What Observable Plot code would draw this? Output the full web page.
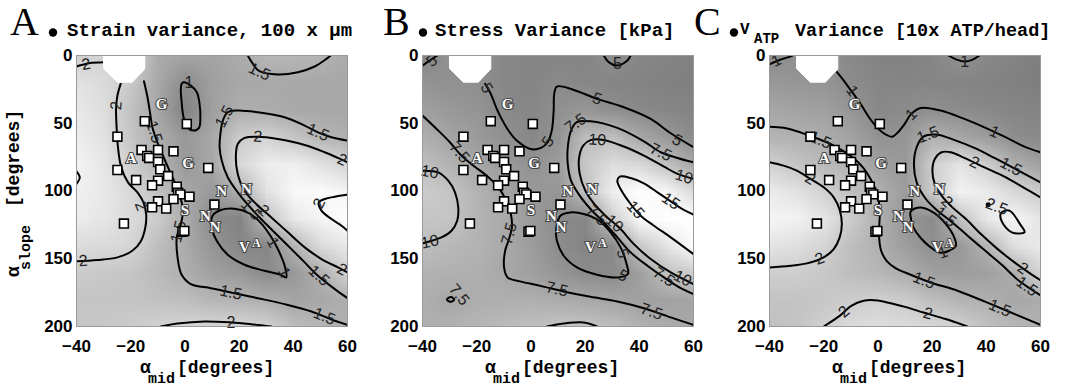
<!DOCTYPE html>
<html>
<head>
<meta charset="utf-8">
<script src="https://cdn.jsdelivr.net/npm/d3@7"></script>
<script src="https://cdn.jsdelivr.net/npm/@observablehq/plot@0.6"></script>
<style>
  body { margin: 0; background: #fff; }
  #wrap { position: relative; width: 1069px; height: 391px; overflow: hidden; background: #fff; }
  #wrap > svg { position: absolute; top: 0; }
</style>
</head>
<body>
<div id="wrap"></div>
<script>
// ---------------- shared axes / markers ----------------
const xTicks = [-40, -20, 0, 20, 40, 60];
const yTicks = [0, 50, 100, 150, 200];
const panelLetters = ["A", "B", "C"];
const panelTitles = ["Strain variance, 100 x µm", "Stress Variance [kPa]", "Variance [10x ATP/head]"];

// squares (same in all panels): [alpha_mid, alpha_slope]
const squares = [
  [-14.8,48.5],[0.7,50.5],[-24.9,59.9],[-16.0,69.7],[-13.9,74.1],[-13.2,75.6],[-9.9,69.7],[-4.2,70.7],
  [-9.9,78.6],[-24.9,84.5],[-9.1,84.0],[8.6,83.0],[-6.2,89.0],[-18.0,91.9],[-9.9,92.4],[-12.1,95.8],
  [-3.0,96.8],[-2.5,101.2],[-1.7,102.5],[1.7,104.2],[-4.2,106.0],[-9.9,107.6],[-12.1,112.0],[-6.9,113.0],
  [10.9,110.0],[-22.5,124.0],[-0.9,130.0],[-0.2,129.5]
];
// species letters
const letters = [["G",-8.6,35.7],["A",-19.8,75.6],["G",1.2,79.6],["N",13.6,99.8],["N",22.7,98.3],
  ["S",0,114.5],["N",7.6,118.8],["N",11.2,126.6],["V",22.0,141.6]];
const superLetters = [["A",26.4,138.2]];
// undefined (white) region
const maskOctagon = [[-29.9,0],[-14.8,0],[-14.8,9.9],[-19.4,19.7],[-24.9,19.7],[-29.9,9.9]];

// grid for background (x = -40..60 step 10, y = 0..200 step 20)
const gridX = [-40,-30,-20,-10,0,10,20,30,40,50,60];
const gridY = [0,20,40,60,80,100,120,140,160,180,200];

// ---------------- Panel A: strain variance ----------------
const strainGrid = [
  [1.95,2.0,2.0,1.45,1.35,1.35,1.45,1.6,1.6,1.55,1.45],
  [2.2,2.1,1.85,1.4,1.0,1.3,1.4,1.42,1.42,1.4,1.4],
  [2.3,2.15,1.75,1.35,0.9,1.3,1.5,1.47,1.42,1.4,1.4],
  [2.35,2.2,1.8,1.48,1.2,1.4,1.9,2.0,1.8,1.6,1.5],
  [2.45,2.25,1.95,1.6,1.2,1.4,2.05,2.35,2.4,2.2,2.02],
  [2.4,2.3,2.05,1.75,1.4,1.2,1.52,2.2,2.5,2.55,2.45],
  [2.35,2.25,2.1,1.9,1.45,1.0,0.9,1.75,2.3,2.45,2.6],
  [2.1,2.1,2.02,1.7,1.45,1.15,0.95,0.95,1.55,2.1,2.3],
  [1.9,1.85,1.8,1.65,1.5,1.3,1.2,1.0,1.2,1.5,2.0],
  [1.8,1.8,1.8,1.75,1.7,1.6,1.55,1.5,1.35,1.4,1.5],
  [1.85,1.85,1.9,1.98,2.05,2.05,2.05,2.0,1.7,1.6,1.5]
];
const strainTopLeft2 = [[-40,8.1],[-35.4,5.7],[-29.9,5.0]];
const strainWest2 = [[-23.7,20.9],[-24.9,29.6],[-25.4,39.4],[-25.2,53.0],[-24.7,67.7],[-23.5,82.5],[-21.0,93.6],[-17.5,101.0],[-15.3,108.4],[-14.3,117.0],[-14.6,126.8],[-16.3,137.2],[-19.4,144.1],[-24.9,149.0],[-32.3,151.0],[-40,151.9]];
const strainCenter15 = [[-15.1,19.0],[-13.8,30.8],[-12.8,43.1],[-12.0,53.0],[-10.4,62.8],[-8.1,73.9],[-5.7,85.0],[-3.5,94.8],[-1.7,104.7],[-0.7,114.5],[-1.5,124.4],[-3.0,134.2],[-2.7,149.0],[-1.2,161.8],[2.2,168.7],[9.6,171.7],[17.0,174.9],[26.9,179.1],[36.8,183.5],[46.7,188.9],[55.3,195.8],[60,198.8]];
const strainEast15 = [[60,62.8],[54.1,60.3],[49.1,56.7],[44.2,51.7],[36.8,45.6],[26.9,41.9],[19.5,40.6],[15.8,41.9],[14.0,48.0],[13.1,57.9],[12.8,67.7],[13.6,77.6],[15.8,89.9],[19.5,101.0],[23.2,110.1],[28.1,120.7],[34.3,133.0],[39.3,142.9],[44.2,152.7],[49.1,162.6],[55.3,172.4],[60,179.1]];
const strainEast2 = [[60,78.8],[56.5,75.6],[51.6,71.4],[44.2,66.0],[34.3,61.6],[26.9,59.9],[22.0,60.8],[19.5,65.3],[18.8,75.1],[19.5,87.4],[22.0,99.8],[26.3,109.6],[31.9,119.5],[38.0,130.5],[44.2,141.6],[50.4,150.2],[56.5,156.4],[60,160.1]];
const strainInner = [[60,102.7],[55.3,104.2],[51.6,105.9],[49.4,108.4],[50.4,114.5],[54.1,120.7],[57.8,125.6],[60,129.3]];
const strainTop15 = [[23.2,0],[25.1,6.2],[27.5,11.6],[34.3,14.0],[41.7,12.3],[47.9,8.1],[52.2,2.5],[53.8,0]];
const strainBottom2 = [[-8.9,200],[-2.7,197.8],[7.2,196.3],[17.0,197.0],[24.4,198.3],[31.9,200]];
const strainEdge = [[-40,85.5],[-38.8,89.9],[-40,94.8]];
const strainTopLoop1 = [[-0.5,19.7],[2.2,22.2],[4.4,27.1],[5.4,35.7],[5.7,45.6],[5.2,53.4],[3.2,55.4],[1.0,53.4],[-0.5,45.6],[-1.2,34.5],[-1.5,25.9],[-1.2,20.9]];
const strainValleyLoop1 = [[10.2,118.2],[13.3,114.0],[18.3,113.1],[23.8,116.5],[28.4,124.4],[31.9,134.2],[34.6,144.1],[36.8,155.2],[37.4,163.8],[35.3,161.8],[29.4,158.9],[22.0,154.4],[15.8,147.0],[11.9,137.2],[9.9,127.3]];
const strainLabels = [
  ["2",-36.5,6.5,-9],["2",-25.3,37,-85],["2",-37.5,151.5,-3],["2",-16.2,111,68],
  ["1.5",-11.3,56.5,72],["1.5",-2.4,130,-75],["1.5",17,175,12],["1.5",51.5,192.5,22],
  ["1.5",14.6,45,-62],["1.5",49.1,56.7,24],["1.5",24.5,114,47],["1.5",49.5,162.5,42],["1.5",27.5,12,25],
  ["2",26.9,60,4],["2",58,77,24],["2",29,114.5,41],["2",58,158,28],["2",49.6,109,-65],["2",17,197,0],
  ["1",1.5,20.5,0],["1",36.6,160,62],["1",32.5,138,61]
];

// ---------------- Panel B: stress variance ----------------
const stressGrid = [
  [4.5,5.5,5.5,4.6,4.3,4.2,4.3,5.2,4.5,4.2,4.0],
  [5.6,5.4,5.2,4.6,4.3,4.9,4.6,4.3,4.2,4.0,3.9],
  [6.8,6.2,5.8,4.8,4.5,5.4,6.0,5.2,4.8,4.5,4.2],
  [8.2,7.3,6.3,5.4,4.6,5.6,9.5,9.6,7.4,6.2,4.8],
  [9.7,8.5,7.4,6.3,5.5,6.5,10.5,12.5,12.0,9.8,7.5],
  [10.8,10.2,8.5,7.2,6.2,6.0,10.0,14.0,16.0,14.8,12.0],
  [10.3,10.2,8.6,7.7,6.3,5.0,4.5,11.0,15.0,16.5,15.5],
  [9.5,9.0,8.5,7.7,6.5,5.0,4.3,4.9,10.5,13.0,15.3],
  [8.5,8.4,8.2,7.5,6.8,5.8,5.0,4.8,6.8,9.8,11.0],
  [8.2,7.4,8.1,8.2,8.2,7.9,7.6,7.3,6.8,7.0,7.3],
  [8.3,8.4,8.8,9.3,9.7,10.1,10.1,9.5,8.6,7.9,7.5]
];
const stressTopLeft5 = [[-40,7.5],[-38,4.5],[-36,2],[-34.5,0]];
const stressNorth5 = [[-16.9,20.9],[-14.8,28.3],[-12.6,39.4],[-10.6,47.5],[-8.1,55.9],[-5.2,62.8],[-0.2,69.0],[3.7,68.2],[6.2,64.0],[7.7,55.4],[8.4,40.6],[8.6,28.3],[9.6,22.9],[15.8,25.4],[24.4,32.0],[34.3,38.2],[44.2,46.8],[51.6,57.4],[60,67.7]];
const stressTop5 = [[26.9,0],[28.7,4.9],[31.9,7.4],[35.6,3.7],[36.8,0]];
const stressWest75 = [[-40,44.3],[-34.8,54.2],[-29.9,64.0],[-25.6,73.9],[-21.2,81.3],[-16.3,88.7],[-12.0,97.3],[-9.1,107.1],[-7.4,117.0],[-7.0,126.8],[-8.3,136.7],[-9.5,144.1],[-9.9,156.4],[-8.6,163.8],[-4.0,166.7],[3.5,170.0],[12.1,174.1],[22.0,178.1],[31.9,181.5],[41.7,186.5],[51.6,193.3],[60,198.8]];
const stressWest10 = [[-40,85.0],[-34.2,86.2],[-30.5,92.4],[-28.0,101.0],[-26.8,112.1],[-27.2,121.9],[-29.3,129.3],[-33.0,134.2],[-40,138.7]];
const stressEast75 = [[60,78.8],[54.1,75.6],[47.9,71.4],[41.7,63.3],[31.9,53.4],[22.0,48.5],[16.8,49.3],[14.8,55.4],[13.6,67.7],[13.6,80.0],[14.8,92.4],[18.0,103.4],[22.0,113.3],[26.9,123.2],[31.9,134.2],[36.8,145.3],[43.0,155.2],[49.1,163.8],[55.3,171.7],[60,176.1]];
const stressEast10 = [[60,91.1],[54.1,87.4],[49.1,82.0],[41.7,73.9],[34.3,67.2],[26.9,62.3],[22.2,62.3],[19.3,66.5],[17.8,75.1],[18.0,87.4],[20.1,99.8],[23.2,109.1],[27.5,118.2],[33.1,128.1],[38.0,139.2],[44.2,150.2],[51.6,160.1],[60,168.7]];
const stressEast15 = [[60,117.5],[55.3,112.6],[51.6,107.6],[46.7,101.0],[41.7,94.3],[36.8,90.4],[32.8,89.4],[31.9,92.4],[33.3,99.3],[36.8,109.6],[40.5,118.2],[45.4,125.6],[51.6,134.2],[60,146.6]];
const stressBottom10 = [[5.9,200],[12.1,197.8],[19.5,197.0],[24.4,200]];
const stressValleyLoop5 = [[10.9,118.2],[14.6,115.8],[19.5,117.0],[25.1,121.9],[29.4,130.5],[33.1,141.6],[35.3,153.9],[35.8,161.3],[31.9,163.8],[24.4,161.8],[17.0,156.4],[12.1,147.8],[9.6,136.7],[9.4,126.8]];
const stressSpot75 = [[-31,180],[-29.5,178.3],[-28.3,180.2],[-29.8,181.8]];
const stressLabels = [
  ["5",-36.5,4,-40],["5",-16.3,24,60],["5",6.3,63.5,-58],["5",24.4,32,19],["5",54,62.5,32],["5",31.9,6,0],
  ["7.5",-26.4,71.5,49],["7.5",-8,131.5,-75],["7.5",9.6,172.5,13],["7.5",44.5,189,19],
  ["7.5",16.5,50,-35],["7.5",47.9,71.4,26],["7.5",24.3,118,45],["7.5",49.1,163.5,34],
  ["10",-37.3,86,12],["10",-37.3,137.5,-12],["10",24.5,62.3,3],["10",56.5,89.5,17],["10",30.8,124,41],["10",56,164.5,27],
  ["15",51.6,107.5,34],["15",38.6,114,49],["5",33.8,146,70],["5",34,162.5,30],["7.5",-26.5,176.5,50]
];

// ---------------- Panel C: V_ATP variance ----------------
const atpGrid = [
  [0.95,1.0,1.0,0.9,0.8,0.78,0.85,1.03,0.9,0.8,0.75],
  [1.15,1.1,1.1,0.95,0.85,0.85,0.85,0.83,0.8,0.78,0.75],
  [1.35,1.3,1.25,1.1,0.9,0.95,1.0,0.95,0.9,0.85,0.8],
  [1.55,1.52,1.45,1.3,1.03,1.1,1.52,1.35,1.2,0.97,0.9],
  [2.0,1.8,1.65,1.55,1.25,1.15,1.95,2.3,1.95,1.5,1.25],
  [2.4,2.25,2.0,1.75,1.5,1.2,1.9,2.5,2.4,2.1,1.9],
  [2.55,2.5,2.3,1.9,1.5,1.1,0.95,1.75,2.35,2.55,2.3],
  [2.3,2.2,2.05,1.7,1.5,1.2,1.0,1.15,1.55,2.2,2.4],
  [1.95,1.95,1.85,1.7,1.6,1.45,1.25,1.2,1.25,1.45,2.05],
  [1.8,1.8,1.85,1.93,1.98,1.9,1.7,1.55,1.5,1.35,1.45],
  [1.75,1.8,2.0,2.15,2.2,2.15,2.1,2.02,1.75,1.6,1.5]
];
const atpTopLeft1 = [[-40,6.5],[-36.5,3.5],[-33,1.2],[-31.5,0]];
const atpNorth1 = [[-15.1,12.3],[-12.6,18.5],[-9.9,25.9],[-6.4,35.7],[-3.3,45.6],[-0.2,53.4],[2.5,57.9],[5.3,59.9],[7.4,56.7],[9.9,50.5],[12.3,43.1],[15.8,38.7],[23.2,40.6],[31.9,46.8],[39.3,53.0],[46.7,59.9],[54.1,67.2],[60,71.4]];
const atpTop1 = [[26,0],[29,3],[32,4.5],[35,3],[37.5,0]];
const atpWest15 = [[-40,52.5],[-34.8,53.4],[-29.9,55.9],[-24.9,59.4],[-17.5,65.3],[-12.6,70.7],[-8.6,76.4],[-5.4,83.0],[-2.7,91.1],[-0.7,99.8],[0.4,108.4],[0.7,117.0],[0.5,125.6],[0.5,135.5],[1.2,144.1],[3.2,151.5],[6.5,156.9],[12.1,161.8],[19.5,167.5],[29.4,173.6],[39.3,181.5],[49.1,189.7],[60,198.8]];
const atpWest2 = [[-40,78.8],[-34.8,81.3],[-29.9,85.0],[-24.9,91.1],[-20.0,97.3],[-16.3,104.7],[-14.1,114.0],[-13.3,124.4],[-14.1,134.2],[-16.3,142.9],[-20.0,149.0],[-26.2,153.4],[-32.3,155.2],[-40,156.4]];
const atpEast15 = [[60,93.6],[54.1,87.4],[49.1,82.0],[43.0,75.6],[35.6,68.2],[28.1,62.3],[22.0,58.4],[16.8,59.9],[14.3,67.7],[13.3,80.0],[14.3,93.6],[17.7,105.9],[22.0,114.5],[27.5,123.2],[33.1,133.0],[39.3,143.6],[45.4,153.9],[51.6,165.5],[56.5,172.5],[60,177]];
const atpEast2 = [[60,104.7],[54.1,97.8],[46.7,89.4],[39.3,82.5],[31.9,75.6],[26.9,71.4],[23.5,71.4],[21.0,76.4],[20.1,85.0],[21.0,94.8],[23.8,104.2],[27.5,112.1],[32.5,120.7],[38.0,131.8],[44.2,142.9],[50.4,152.7],[56.5,161.3],[60,165.8]];
const atpBottom2 = [[-20,200],[-14,192],[-10,185],[-5.3,181],[0,180.8],[3.5,182.3],[10,185.5],[16.8,189.7],[25,194.5],[33,200]];
const atpValleyLoop1 = [[12.1,115.0],[15.8,112.1],[21.0,116.5],[25.1,124.4],[27.9,133.0],[28.8,140.4],[26.3,144.1],[23.0,145.6],[19.5,141.6],[15.8,134.7],[13.1,126.8],[12.1,119.5]];
const atpPeakLoop = [[45.4,116.3],[48.5,114.5],[52.6,124.9],[54.1,130.5],[49.4,130.5],[45.7,122.4]];
const atpSpot = [[40.7,110.1]];
const atpLabels = [
  ["1",-37.5,3.8,-25],["1",-9.5,26,54],["1",12.3,43.5,-45],["1",43,56.5,25],["1",32,4.5,0],
  ["1.5",-21.2,62.5,22],["1.5",17,166,21],["1.5",45,186.5,23],["1.5",18.5,58.5,-20],
  ["1.5",49.1,82,28],["1.5",25,119,38],["1.5",55,170.5,35],
  ["2",35.6,79,25],["2",25.5,108,47],["2",53.5,157,35],["2",-25,91,32],["2",-21.5,150,-20],
  ["2",-12.5,189,-41],["2",18.5,190.5,16],["1",24,145.5,-20],["2.5",43.8,111.5,20]
];

// ---------------- build ----------------
const rows = (pairs) => pairs.flatMap(([id, pts]) => pts.map(([x, y]) => ({id, x, y})));
const labelRows = (arr) => arr.map(([t, x, y, r]) => ({t, x, y, r}));
const pts = (arr) => arr.map(([x, y]) => ({x, y}));

const panels = [
  {
    grid: strainGrid, domain: [0.8, 2.6],
    lines: [["a", strainTopLeft2], ["b", strainWest2], ["c", strainCenter15], ["d", strainEast15], ["e", strainEast2],
            ["f", strainInner], ["g", strainTop15], ["h", strainBottom2], ["i", strainEdge]],
    loops: [["l1", strainTopLoop1], ["l2", strainValleyLoop1]],
    spots: [], labels: strainLabels
  },
  {
    grid: stressGrid, domain: [3.5, 15.5],
    lines: [["a", stressTopLeft5], ["b", stressNorth5], ["c", stressTop5], ["d", stressWest75], ["e", stressWest10],
            ["f", stressEast75], ["g", stressEast10], ["h", stressEast15], ["i", stressBottom10]],
    loops: [["l1", stressValleyLoop5], ["l2", stressSpot75]],
    spots: [], labels: stressLabels
  },
  {
    grid: atpGrid, domain: [0.7, 2.7],
    lines: [["a", atpTopLeft1], ["b", atpNorth1], ["c", atpTop1], ["d", atpWest15], ["e", atpWest2],
            ["f", atpEast15], ["g", atpEast2], ["h", atpBottom2]],
    loops: [["l1", atpValleyLoop1], ["l2", atpPeakLoop]],
    spots: atpSpot, labels: atpLabels
  }
];

const wrap = document.getElementById("wrap");
const lefts = [0, 346, 693];

panels.forEach((p, i) => {
  const values = p.grid.flat();
  const plot = Plot.plot({
    width: 360, height: 391,
    marginLeft: 76, marginRight: 13, marginTop: 55, marginBottom: 65,
    style: {background: "transparent", fontFamily: "Liberation Sans, Arial, sans-serif", fontSize: "17px", fontWeight: "bold", color: "#000", overflow: "visible"},
    x: {domain: [-40, 60], ticks: xTicks, tickSize: 0, tickPadding: 13, label: null},
    y: {domain: [0, 200], reverse: true, ticks: yTicks, tickSize: 0, tickPadding: 4, label: null},
    color: {type: "linear", domain: p.domain, range: ["#7c7c7c", "#ffffff"], clamp: true},
    marks: [
      Plot.raster(values, {width: gridX.length, height: gridY.length, x1: -45, x2: 65, y1: -10, y2: 210, imageRendering: "auto", clip: true}),
      Plot.line(rows(p.lines), {x: "x", y: "y", z: "id", stroke: "#000", strokeWidth: 2, curve: "catmull-rom", clip: true}),
      Plot.line(rows(p.loops), {x: "x", y: "y", z: "id", stroke: "#000", strokeWidth: 2, curve: "catmull-rom-closed", clip: true}),
      Plot.dot(pts(p.spots), {x: "x", y: "y", r: 2.5, fill: "#000"}),
      Plot.text(labelRows(p.labels), {x: "x", y: "y", text: "t", rotate: "r", fill: "#222", fontSize: 16, fontWeight: "normal", fontFamily: "Liberation Sans, Arial, sans-serif"}),
      Plot.line(pts(maskOctagon), {x: "x", y: "y", fill: "#fff", stroke: "#fff", strokeWidth: 1, curve: "linear-closed"}),
      Plot.frame({stroke: "#9a9a9a", strokeWidth: 1}),
      Plot.dot(pts(squares), {x: "x", y: "y", symbol: "square", r: 5, fill: "#fff", stroke: "#000", strokeWidth: 1.6}),
      Plot.text(letters.map(([t, x, y]) => ({t, x, y})), {x: "x", y: "y", text: "t", fill: "#fff", stroke: "#444", strokeWidth: 2.2, paintOrder: "stroke", fontFamily: "Liberation Serif, serif", fontWeight: "bold", fontSize: 15}),
      Plot.text(superLetters.map(([t, x, y]) => ({t, x, y})), {x: "x", y: "y", text: "t", fill: "#fff", stroke: "#444", strokeWidth: 2, paintOrder: "stroke", fontFamily: "Liberation Serif, serif", fontWeight: "bold", fontSize: 12})
    ]
  });
  plot.style.left = lefts[i] + "px";
  wrap.appendChild(plot);
});

// ---------------- titles and axis labels ----------------
const ov = d3.select(wrap).append("svg")
  .attr("width", 1069).attr("height", 391)
  .style("left", "0px").style("pointer-events", "none");
const mono = "Liberation Mono, Courier New, monospace";
const serif = "Liberation Serif, Times New Roman, serif";
function t(x, y, s, size, family, weight, extra) {
  const el = ov.append("text").attr("x", x).attr("y", y).text(s)
    .attr("font-size", size).attr("font-family", family).attr("font-weight", weight || "normal").attr("fill", "#000");
  if (extra) el.attr("transform", extra);
  return el;
}
// panel letters + bullets
const letterX = [10, 383, 694], bulletX = [53, 423, 734];
panelLetters.forEach((L, i) => {
  t(letterX[i], 35, L, 40, serif);
  ov.append("circle").attr("cx", bulletX[i]).attr("cy", 32.5).attr("r", 4.2).attr("fill", "#000");
});
t(67, 36, panelTitles[0], 19, mono, "bold");
t(435, 36, panelTitles[1], 19, mono, "bold");
t(740, 34, "V", 16, mono, "bold");
t(754, 43, "ATP", 14, mono, "bold");
t(795, 36, panelTitles[2], 18.5, mono, "bold");

// x-axis labels
[0, 345, 692].forEach(off => {
  t(140 + off, 373, "α", 18, mono, "bold");
  t(148 + off, 383, "mid", 15, mono, "bold");
  t(177 + off, 373, "[degrees]", 18, mono, "bold");
});
// y-axis label (panel A)
t(0, 0, "α", 18, mono, "bold", "translate(19,277) rotate(-90)");
t(0, 0, "slope", 15, mono, "bold", "translate(30,270) rotate(-90)");
t(0, 0, "[degrees]", 18, mono, "bold", "translate(19,207) rotate(-90)");
</script>
</body>
</html>
